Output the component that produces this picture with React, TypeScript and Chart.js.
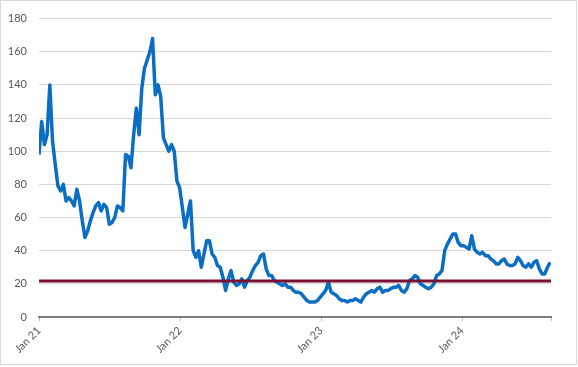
import React, { useEffect, useRef } from "react";
import { Chart, registerables } from "chart.js";

Chart.register(...registerables);

// Weekly series starting at the first week of January 2021
const startDate = "2021-01-01";
const weeklyValues = [
  98, 118, 104, 110, 140, 106, 92, 79, 76, 80,
  70, 72, 70, 67, 77, 70, 58, 48, 52, 58,
  63, 67, 69, 64, 68, 66, 56, 57, 60, 67,
  66, 64, 98, 97, 90, 110, 126, 110, 138, 150,
  155, 160, 168, 134, 140, 133, 108, 104, 100, 104,
  100, 82, 78, 66, 54, 62, 70, 40, 36, 40,
  30, 38, 46, 46, 38, 36, 31, 30, 24, 16,
  23, 28, 21, 19, 20, 23, 18, 22, 24, 28,
  31, 33, 37, 38, 29, 25, 25, 22, 21, 20,
  19, 20, 18, 18, 16, 15, 15, 14, 12, 10,
  9, 9, 9, 10, 12, 14, 16, 21, 15, 14,
  13, 11, 10, 10, 9, 10, 10, 11, 10, 9,
  12, 14, 15, 16, 15, 17, 18, 15, 16, 16,
  17, 18, 18, 19, 16, 15, 17, 22, 23, 25,
  24, 20, 19, 18, 17, 18, 20, 25, 26, 28,
  40, 44, 47, 50, 50, 45, 43, 43, 42, 41,
  49, 41, 39, 38, 39, 37, 37, 35, 34, 32,
  32, 34, 35, 32, 31, 31, 32, 36, 34, 31,
  30, 32, 30, 33, 34, 29, 26, 26, 30, 33,
];
const yearTickDates = ["2021-01-01", "2022-01-01", "2023-01-01", "2024-01-01"];
const yearTickLabels = ["Jan 21", "Jan 22", "Jan 23", "Jan 24"];
const thresholdValue = 21.7;
const yMin = 0;
const yMax = 180;
const yStep = 20;

const WEEK_MS = 7 * 24 * 3600 * 1000;
const weekOf = (d: string) => (Date.parse(d) - Date.parse(startDate)) / WEEK_MS;

export default function App() {
  const ref = useRef<HTMLCanvasElement | null>(null);

  useEffect(() => {
    document.body.style.margin = "0";
    const canvas = ref.current;
    if (!canvas) return;
    const xMax = weeklyValues.length - 0.7;
    const tickWeeks = yearTickDates.map(weekOf);
    const linePoints = weeklyValues.map((v, i) => ({ x: i, y: v }));
    const thresholdPoints = [
      { x: 0, y: thresholdValue },
      { x: xMax, y: thresholdValue },
    ];

    const borderPlugin = {
      id: "outerBorder",
      afterDraw(chart: any) {
        const c = chart.ctx;
        c.save();
        c.strokeStyle = "#d9d9d9";
        c.lineWidth = 1;
        c.strokeRect(0.5, 0.5, 576, 364);
        c.restore();
      },
    };

    const chart = new Chart(canvas, {
      type: "line",
      data: {
        datasets: [
          {
            data: thresholdPoints,
            borderColor: "#7a1033",
            borderWidth: 3,
            pointRadius: 0,
            fill: false,
          },
          {
            data: linePoints,
            borderColor: "#0a6fc4",
            borderWidth: 3.5,
            borderJoinStyle: "round",
            pointRadius: 0,
            tension: 0,
            fill: false,
          },
        ],
      },
      options: {
        responsive: false,
        animation: false,
        layout: { padding: { top: 14, right: 27, bottom: 0, left: 0 } },
        plugins: { legend: { display: false }, tooltip: { enabled: false } },
        scales: {
          x: {
            type: "linear",
            min: 0,
            max: xMax,
            afterFit(scale: any) {
              scale.height = 50;
            },
            afterBuildTicks(scale: any) {
              scale.ticks = [...tickWeeks, xMax].map((v) => ({ value: v }));
            },
            grid: {
              display: true,
              drawOnChartArea: false,
              drawTicks: true,
              tickLength: 4,
              color: "#bfbfbf",
            },
            border: { display: true, color: "#808080", width: 2 },
            ticks: {
              autoSkip: false,
              minRotation: 45,
              maxRotation: 45,
              padding: 3,
              color: "#595959",
              font: { family: "Lato", size: 11 },
              callback(value: any) {
                const idx = tickWeeks.findIndex((w) => Math.abs(w - value) < 1e-6);
                return idx >= 0 ? yearTickLabels[idx] : "";
              },
            },
          },
          y: {
            min: yMin,
            max: yMax,
            afterFit(scale: any) {
              scale.width = 39;
            },
            grid: { color: "#d9d9d9", lineWidth: 1, drawTicks: false },
            border: { display: false },
            ticks: {
              stepSize: yStep,
              padding: 12,
              color: "#595959",
              font: { family: "Lato", size: 11 },
            },
          },
        },
      },
      plugins: [borderPlugin],
    } as any);

    return () => chart.destroy();
  }, []);

  return (
    <div style={{ width: 578, height: 367, position: "relative", background: "#fff" }}>
      <canvas ref={ref} width={578} height={367} />
    </div>
  );
}
